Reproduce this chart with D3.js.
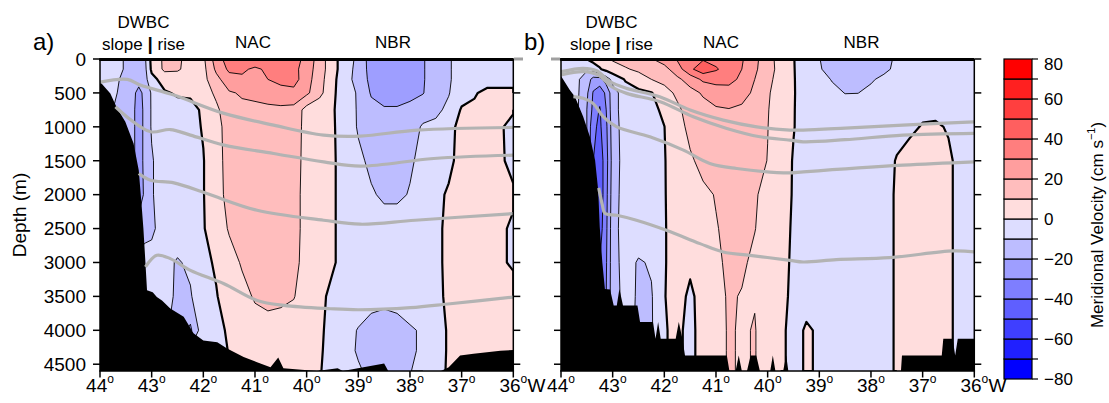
<!DOCTYPE html>
<html>
<head>
<meta charset="utf-8">
<script src="https://cdn.jsdelivr.net/npm/d3@7"></script>
<style>
body { margin: 0; background: #fff; }
svg text { font-family: "Liberation Sans", Arial, Helvetica, sans-serif; fill: #000; }
</style>
</head>
<body>
<div id="chart-area"></div>
<script>
const svgWidth = 1109,
      svgHeight = 403;

// grid of the velocity sections (deg W, m)
const lons = [44, 43.75, 43.5, 43.375, 43.25, 43.125, 43, 42.75, 42.5, 42.25, 42, 41.75, 41.5, 41.25, 41, 40.75, 40.5, 40.25, 40,
  39.75, 39.5, 39.25, 39, 38.75, 38.5, 38.25, 38, 37.75, 37.5, 37.25, 37, 36.75, 36.5, 36.25, 36];
const depths = [0, 150, 300, 500, 750, 1000, 1500, 2000, 2500, 3000, 3500, 4000, 4300, 4600];

// a) observed meridional velocity (cm/s), one row per depth
const velA = [
  [-5, -6, -11, -12, -13, -11, 3, 12, 11, 8, 8, 25, 35, 37, 38, 38, 37, 34, 27, 15, 4, -6, -12, -25, -27, -27, -26, -21, -14, -11, -6, -5, -5, -5, -5],
  [-5, -6, -11, -13, -14, -12, 2, 12, 11, 7, 7, 22, 32, 32, 28, 32, 34, 33, 25, 15, 4, -6, -13, -24, -27, -27, -26, -21, -14, -11, -6, -5, -5, -5, -5],
  [-5, -8, -12, -14, -15, -13, -3, 4, 6, 6, 7, 17, 26, 28, 26, 30, 33, 34, 24, 14, 3, -7, -13, -23, -26, -27, -25, -21, -14, -11, -6, -5, -5, -5, -5],
  [-8, -9, -12, -16, -24, -16, -9, -1, 1, 1, 5, 12, 19, 21, 22, 24, 26, 27, 22, 13, 2, -6, -11, -21, -24, -24, -23, -20.5, -14, -10.5, -4, -1, 3, 3, 3],
  [-10, -10, -12, -17, -25, -17, -9, -4, -3, -2, 1, 8, 16, 18, 18, 18, 18, 17, 6, 3, 1, -5, -11, -17, -19, -19, -17, -14, -12, -8, 1, 2, 3, 2, 1],
  [-12, -12, -12, -17, -25, -17, -9, -4, -3, -2, 0.5, 6, 15, 17, 17, 17, 17, 16, 6, 3, 1, -4, -11, -14, -16, -16, -14, -9, -8, -3, 3, 4, 4, 1, -3],
  [-12, -12, -12, -17, -25, -17, -11, -4, -3, -2, -0.3, 5, 15, 17, 17, 17, 16, 15, 6, 3, 1, -3, -8, -12, -13, -13, -11, -8, -6, -2, 3, 4, 4, 1, -2],
  [-20, -20, -22, -22, -25, -18, -11, -4, -3, -2, -0.3, 5, 14, 16, 16, 16, 15, 14, 6, 3, 1, -3, -6, -9, -11.5, -11.5, -9.5, -5, -2, 1, 3, 4, 4, 2, 1],
  [-20, -20, -20, -20, -16, -13, -12, -5, -4, -3, -0.5, 4, 11, 15, 16, 16, 15, 14, 6, 3, 1, -3, -5, -6, -6, -6, -5, -4, -2, 2, 4, 4, 4, 1, -1],
  [-6, -6, -6, -6, -6, -6, -6, -7, -11, -8, -2, 1, 6, 11, 14, 14, 14, 13, 6, 3, 1, -3, -5, -5, -5, -5, -5, -4, -2, 2, 4, 4, 4, 1, -1],
  [-6, -6, -6, -6, -6, -6, -6, -6, -12, -11, -2, -0.5, 4, 7, 11, 13, 12, 10.5, 5, 2, -2, -4, -5, -6, -7, -6, -5, -4, -2, 1.5, 4, 4, 4, 4, 3],
  [-8, -8, -8, -8, -8, -8, -8, -8, -15, -22, -3, -1, 0.5, 4, 6, 6, 6, 5, 4, 1.5, -3, -7, -10.5, -14, -15, -14, -11, -9, -4, 1, 4, 4, 4, 3, 3],
  [-8, -8, -8, -8, -8, -8, -8, -8, -8, -8, -8, -8, 1, 4, 5, 5, 5, 4, 3, 1, -3, -7, -11, -14, -14, -14, -12, -8, -4, 1, 3, 3, 3, 3, 3],
  [-8, -8, -8, -8, -8, -8, -8, -8, -8, -8, -8, -8, 1, 3, 4, 4, 4, 3, 2, 0.5, -3, -6, -9, -12, -11, -12, -10.5, -6, -3, 1, 3, 3, 3, 3, 3]
];

// b) model meridional velocity (cm/s)
const velB = [
  [-4, -4, 0.2, 3, 5, 8, 11, 14, 16, 19.5, 24, 31, 36, 39, 37, 35, 31, 23, 13, 7, 0.3, -4, -9.8, -13, -15, -15, -13, -11, -9.5, -7, -6, -6, -6, -6, -6],
  [-6, -8, -9, -5, -1, 3, 6, 9, 12, 15, 17, 25, 38, 46, 41, 36, 30, 22, 13, 7.5, 0.5, -5, -9, -14, -16, -16, -14, -12, -8, -6, -5, -5, -5, -5, -5],
  [-5, -7, -14, -24, -24, -15, -7, 1, 5, 10, 13, 18, 24, 32, 34, 33, 28, 20, 12, 7, 0.5, -4, -7, -10.5, -14, -13.5, -11, -8, -6, -5, -4, -4, -4, -4, -4],
  [-5, -5, -18, -31, -36, -28, -14, -5, -2, -0.5, 6, 12, 17, 21, 24, 26, 24, 18, 11, 6, 0.5, -3.5, -5, -8, -10.2, -10.1, -8, -6, -5, -4, -3, -3, -3, -3, -3],
  [-5, -5, -20, -33, -41, -30, -14, -5, -3, -2, 1.5, 8, 14, 17, 19, 19.5, 18, 15, 10.5, 5, 0.4, -3.5, -4, -5, -6, -6, -5, -4, -3, -2, -1.5, -1.5, -2, -3, -3],
  [-20, -20, -20, -38, -42, -32, -15, -5, -3, -2, -0.1, 5.5, 13, 15, 16, 16, 16, 14, 10.2, 4.5, 0.3, -3, -3.5, -4, -4.5, -4.5, -4, -3.5, -2.5, -1.5, 0.5, 0.8, -0.5, -2.5, -3],
  [-20, -20, -20, -40, -46, -34, -16, -5, -3, -2, -0.5, 5, 8.5, 13, 15, 15, 15, 13, 9.8, 4, -0.5, -3, -3.5, -4, -4, -4, -4, -3, 0.5, 3, 4, 4, 1, -2, -3],
  [-20, -20, -20, -40, -47, -33, -15, -5, -3, -2, -0.5, 4, 7, 8, 10.5, 13, 13, 11, 7, 3, -0.5, -3, -3.5, -4, -4, -4, -4, -3, 1, 4, 5, 5, 1, -2, -3],
  [-20, -20, -20, -40, -45, -32, -14, -5, -3.5, -2.5, -0.5, 3, 5, 7, 9.5, 12, 12, 10.3, 6, 2.5, -0.8, -3, -3.5, -4, -4, -4, -4, -3, 1, 4, 5, 5, 1, -2, -3],
  [-20, -20, -20, -40, -40, -31, -14, -6, -11, -9, -0.5, 3, 1.5, 5, 8, 12, 11.5, 8, 5, 2, -1, -3, -3.5, -4, -4, -4, -4, -3, 1, 4, 5, 5, 1, -2, -3],
  [-20, -20, -20, -40, -40, -30, -14, -7, -11, -10.8, -0.3, 3, -1.5, 3, 7, 11, 9.5, 9.5, 5, 2, -1.5, -3, -3.5, -4, -4, -4, -4, -3, 1, 4, 5, 5, 1, -2, -3],
  [-20, -20, -20, -40, -40, -30, -14, -6, -12, -11, -0.5, 1.5, -2, 3, 6, 11, 9, 10.5, 5, 2, -3, 1, -1, -3, -3.5, -4, -4, -3, 1, 4, 5, 5, 1, -2, -3],
  [-20, -20, -20, -40, -40, -30, -14, -6, -12, -11, -0.5, 1.5, -2, 3, 6, 11, 9, 10.5, 5, 2, -3, 1, -1, -3, -3.5, -4, -4, -3, 1, 4, 5, 5, 1, -2, -3],
  [-20, -20, -20, -40, -40, -30, -14, -6, -12, -11, -0.5, 1.5, -2, 3, 6, 11, 9, 10.5, 5, 2, -3, 1, -1, -3, -3.5, -4, -4, -3, 1, 4, 5, 5, 1, -2, -3]
];

// bottom topography [lon, depth]
const bathyA = [[44, 335], [43.8, 507], [43.67, 725], [43.51, 925], [43.35, 1245], [43.25, 1640], [43.2, 2100], [43.16, 2500],
  [43.12, 3010], [43.09, 3410], [42.98, 3440], [42.9, 3510], [42.8, 3560], [42.64, 3680], [42.38, 3800], [42.19, 4045],
  [42.0, 4150], [41.73, 4175], [41.54, 4270], [41.22, 4395], [40.96, 4470], [40.7, 4545], [40.55, 4400], [40.45, 4560],
  [40.1, 4580], [39.8, 4600], [39.4, 4560], [39.3, 4600], [38.5, 4490], [38.42, 4600], [37.4, 4600], [37.25, 4545],
  [37.03, 4370], [36.77, 4345], [36.25, 4300], [36, 4290]];
const bathyB = [[44, 250], [43.83, 458], [43.73, 556], [43.57, 852], [43.44, 1147], [43.34, 1491], [43.28, 1934], [43.25, 2476],
  [43.2, 3000], [43.15, 3390], [43.05, 3400], [42.98, 3633], [42.92, 3633], [42.87, 3390], [42.8, 3633], [42.52, 3633],
  [42.47, 3879], [42.22, 3879], [42.17, 4126], [42.12, 3879], [42.07, 4126], [41.78, 4126], [41.72, 3879], [41.65, 4126],
  [41.6, 4371], [40.79, 4371], [40.74, 4600], [40.62, 4600], [40.56, 4371], [40.5, 4600], [40.4, 4600], [40.33, 4371],
  [40.22, 4371], [40.15, 4600], [39.95, 4600], [39.9, 4371], [39.85, 4600], [39.7, 4600], [39.64, 4371], [39.6, 4600],
  [37.42, 4600], [37.4, 4371], [36.63, 4371], [36.6, 4126], [36.42, 4126], [36.37, 4371], [36.32, 4126], [36, 4126]];

// density surfaces [lon, depth]
const isoA = [
  [[44, 340], [43.47, 300], [43.22, 384], [42.57, 532], [41.6, 802], [40.64, 975], [39.67, 1122], [38.96, 1137], [37.86, 1048], [36, 1009]],
  [[43.7, 704], [43.44, 876], [43.02, 1073], [42.64, 1040], [42.25, 1122], [41.6, 1270], [40.64, 1393], [39.67, 1516], [38.96, 1580], [37.54, 1467], [36, 1418]],
  [[43.25, 1688], [43.02, 1787], [42.57, 1826], [41.93, 1984], [40.96, 2230], [39.67, 2377], [38.96, 2436], [37.9, 2377], [36, 2279]],
  [[43.12, 3066], [42.9, 2894], [42.64, 2943], [42.25, 3116], [41.6, 3313], [40.96, 3559], [40.44, 3633], [39.54, 3682], [39.0, 3697], [37.99, 3667], [37.22, 3608], [36, 3510]]
];
const isoB = [
  [[44, 187], [43.57, 137], [43.31, 172], [43.05, 335], [42.73, 433], [42.09, 556], [41.5, 753], [40.86, 901], [40.21, 1000], [39.57, 1048], [39.31, 1048], [38.5, 1020], [37.38, 975], [36, 926]],
  [[44, 236], [43.57, 187], [43.28, 236], [43.02, 409], [42.73, 507], [42.08, 630], [41.44, 852], [40.79, 1024], [40.15, 1147], [39.57, 1196], [39.31, 1221], [38.5, 1190], [37.38, 1122], [36, 1097]],
  [[43.76, 556], [43.57, 580], [43.38, 654], [43.18, 852], [42.92, 1000], [42.28, 1147], [41.63, 1344], [41.12, 1540], [40.6, 1614], [39.57, 1680], [39.31, 1664], [37.38, 1565], [36, 1516]],
  [[43.27, 1900], [43.2, 2150], [43.15, 2275], [42.92, 2304], [42.54, 2377], [41.96, 2525], [41.31, 2722], [40.86, 2845], [40.34, 2894], [39.57, 2968], [39.31, 2993], [38.67, 2958], [37.64, 2928], [36.41, 2830], [36, 2845]]
];

const thresholds = d3.range(-80, 80, 10);
const depthTicks = d3.range(0, 4501, 500);
const lonTicks = d3.range(44, 35.5, -1);
const cbarTicks = d3.range(-80, 81, 10);
const cbarLabels = d3.range(-80, 81, 20);

const plotTop = 59, plotBottom = 371;

function binColor(t) {
  const k = (t + 80) / 10;
  if (k < 8) {
    const c = Math.round(221 * k / 7);
    return `rgb(${c},${c},255)`;
  }
  const c = Math.round(221 * (15 - k) / 7);
  return `rgb(255,${c},${c})`;
}

const svg = d3.select("#chart-area")
  .append("svg")
  .attr("width", svgWidth)
  .attr("height", svgHeight);

const minus = v => v < 0 ? "\u2212" + Math.abs(v) : String(v);

function drawPanel(cfg) {
  const x = d3.scaleLinear().domain([44, 36]).range([cfg.left, cfg.right]);
  const y = d3.scaleLinear().domain([0, 4600]).range([plotTop, plotBottom]);
  const n = lons.length, m = depths.length;
  const gx = d3.scaleLinear().domain(d3.range(n)).range(lons).clamp(true);
  const gy = d3.scaleLinear().domain(d3.range(m)).range(depths).clamp(true);
  const toPx = p => [x(gx(p[0] - 0.5)), y(gy(p[1] - 0.5))];

  svg.append("clipPath").attr("id", "clip-" + cfg.name)
    .append("rect")
    .attr("x", cfg.left).attr("y", plotTop)
    .attr("width", cfg.right - cfg.left).attr("height", plotBottom - plotTop);

  const plot = svg.append("g").attr("clip-path", `url(#clip-${cfg.name})`);

  const contours = d3.contours().size([n, m]).thresholds(thresholds)(cfg.vel.flat());

  plot.selectAll("path.band")
    .data(contours)
    .join("path")
    .attr("class", "band")
    .attr("fill", c => binColor(c.value))
    .attr("fill-rule", "evenodd")
    .attr("d", c => c.coordinates.map(poly =>
      poly.map(ring => "M" + ring.map(toPx).join("L") + "Z").join("")).join(""));

  // contour lines, without the pieces that run along the grid border
  const onEdge = (a, b) =>
    (a[0] === b[0] && (a[0] === 0 || a[0] === n)) || (a[1] === b[1] && (a[1] === 0 || a[1] === m));
  const linePath = c => {
    let d = "";
    c.coordinates.forEach(poly => poly.forEach(ring => {
      let pen = false;
      for (let k = 0; k < ring.length - 1; k++) {
        if (onEdge(ring[k], ring[k + 1])) { pen = false; continue; }
        if (!pen) { d += "M" + toPx(ring[k]); pen = true; }
        d += "L" + toPx(ring[k + 1]);
      }
    }));
    return d;
  };

  plot.selectAll("path.cline")
    .data(contours.filter(c => c.value > -80))
    .join("path")
    .attr("class", "cline")
    .attr("fill", "none")
    .attr("stroke", "#000")
    .attr("stroke-linejoin", "round")
    .attr("stroke-width", c => c.value === 0 ? 2.2 : 0.9)
    .attr("d", linePath);

  // topography
  const bottomPoly = cfg.bathy.concat([[36, 4800], [44, 4800]]);
  plot.append("path")
    .attr("fill", "#000")
    .attr("d", "M" + bottomPoly.map(d => [x(d[0]), y(d[1])]).join("L") + "Z");

  // density surfaces
  const isoLine = d3.line()
    .x(d => x(d[0]))
    .y(d => y(d[1]))
    .curve(d3.curveCatmullRom.alpha(0.5));
  plot.selectAll("path.iso")
    .data(cfg.iso)
    .join("path")
    .attr("class", "iso")
    .attr("fill", "none")
    .attr("stroke", "#b3b3b3")
    .attr("stroke-width", 3.2)
    .attr("d", isoLine);

  // frame
  const frame = svg.append("g").attr("stroke", "#000");
  frame.append("line").attr("x1", cfg.left).attr("x2", cfg.left)
    .attr("y1", plotTop).attr("y2", plotBottom).attr("stroke-width", 1.5);
  frame.append("line").attr("x1", cfg.right).attr("x2", cfg.right)
    .attr("y1", plotTop).attr("y2", plotBottom).attr("stroke-width", 1.5);
  frame.append("line").attr("x1", cfg.left - 0.75).attr("x2", cfg.right + 0.75)
    .attr("y1", plotBottom).attr("y2", plotBottom).attr("stroke-width", 1.5);
  frame.append("line").attr("x1", cfg.left - 0.75).attr("x2", cfg.right)
    .attr("y1", plotTop + 0.5).attr("y2", plotTop + 0.5).attr("stroke-width", 2.8);

  frame.selectAll("line.yl").data(depthTicks).join("line")
    .attr("x1", cfg.left - 7).attr("x2", cfg.left)
    .attr("y1", d => y(d)).attr("y2", d => y(d)).attr("stroke-width", 1.5);
  frame.selectAll("line.yr").data(depthTicks).join("line")
    .attr("x1", cfg.right).attr("x2", cfg.right + 7)
    .attr("y1", d => y(d)).attr("y2", d => y(d)).attr("stroke-width", 1.5);
  frame.selectAll("line.xt").data(lonTicks).join("line")
    .attr("x1", d => x(d)).attr("x2", d => x(d))
    .attr("y1", plotBottom).attr("y2", plotBottom + 6.5).attr("stroke-width", 1.5);

  // gray stub of the surface layer outside the frame
  svg.append("line")
    .attr("x1", cfg.stub[0]).attr("x2", cfg.stub[1])
    .attr("y1", plotTop).attr("y2", plotTop)
    .attr("stroke", "#a0a0a0").attr("stroke-width", 3);

  if (cfg.yLabels) {
    svg.selectAll("text.ylab").data(depthTicks).join("text")
      .attr("class", "ylab")
      .attr("x", cfg.left - 14)
      .attr("y", d => y(d))
      .attr("dy", "0.36em")
      .attr("text-anchor", "end")
      .attr("font-size", "19px")
      .text(d => d);

    svg.append("text")
      .attr("transform", `translate(26, 215) rotate(-90)`)
      .attr("text-anchor", "middle")
      .attr("font-size", "19px")
      .text("Depth (m)");
  }

  lonTicks.forEach(d => {
    const t = svg.append("text")
      .attr("x", x(d)).attr("y", 392)
      .attr("text-anchor", "middle")
      .attr("font-size", "19px");
    t.append("tspan").text(d);
    t.append("tspan").attr("font-size", "12px").attr("dy", "-9").text("o");
    if (d === 36) {
      const bb = t.node().getBBox();
      svg.append("text")
        .attr("x", bb.x + bb.width).attr("y", 392)
        .attr("font-size", "19px")
        .text("W");
    }
  });

  // panel letter and current names
  svg.append("text").attr("x", cfg.letterX).attr("y", 50)
    .attr("font-size", "24px").text(cfg.letter);
  svg.append("text").attr("x", cfg.dwbcX).attr("y", 28)
    .attr("text-anchor", "middle").attr("font-size", "17px").text("DWBC");
  const sr = svg.append("text").attr("x", cfg.dwbcX).attr("y", 50)
    .attr("text-anchor", "middle").attr("font-size", "17px");
  sr.append("tspan").text("slope ");
  sr.append("tspan").attr("font-weight", "bold").attr("font-size", "19px").text("|");
  sr.append("tspan").text(" rise");
  svg.append("text").attr("x", cfg.nacX).attr("y", 48)
    .attr("text-anchor", "middle").attr("font-size", "17px").text("NAC");
  svg.append("text").attr("x", cfg.nbrX).attr("y", 48)
    .attr("text-anchor", "middle").attr("font-size", "17px").text("NBR");
}

drawPanel({ name: "a", left: 100, right: 513.3, vel: velA, bathy: bathyA, iso: isoA, yLabels: true,
  stub: [514, 523], letter: "a)", letterX: 33, dwbcX: 143.5, nacX: 253, nbrX: 393 });
drawPanel({ name: "b", left: 561, right: 974.3, vel: velB, bathy: bathyB, iso: isoB, yLabels: false,
  stub: [551, 560], letter: "b)", letterX: 524, dwbcX: 611.5, nacX: 721, nbrX: 861.5 });

// colour bar
const cbX = 1004, cbW = 28;
const cbY = d3.scaleLinear().domain([-80, 80]).range([379, 59]);
const cbar = svg.append("g");
cbar.selectAll("rect").data(thresholds).join("rect")
  .attr("x", cbX).attr("width", cbW)
  .attr("y", d => cbY(d + 10)).attr("height", d => cbY(d) - cbY(d + 10))
  .attr("fill", d => binColor(d))
  .attr("stroke", "#000").attr("stroke-width", 1.2);
cbar.selectAll("line").data(cbarTicks).join("line")
  .attr("x1", cbX + cbW).attr("x2", cbX + cbW + 6)
  .attr("y1", d => cbY(d)).attr("y2", d => cbY(d))
  .attr("stroke", "#000").attr("stroke-width", 1.2);
cbar.selectAll("text").data(cbarLabels).join("text")
  .attr("x", cbX + cbW + 12)
  .attr("y", d => cbY(d) + (d === 80 ? 5 : 0))
  .attr("dy", "0.36em")
  .attr("font-size", "17px")
  .text(d => minus(d));

const cbTitle = svg.append("text")
  .attr("transform", "translate(1103, 225) rotate(-90)")
  .attr("text-anchor", "middle")
  .attr("font-size", "17px");
cbTitle.append("tspan").text("Meridional Velocity (cm s");
cbTitle.append("tspan").attr("font-size", "11px").attr("dy", "-8").text("\u22121");
cbTitle.append("tspan").attr("dy", "8").text(")");
</script>
</body>
</html>
